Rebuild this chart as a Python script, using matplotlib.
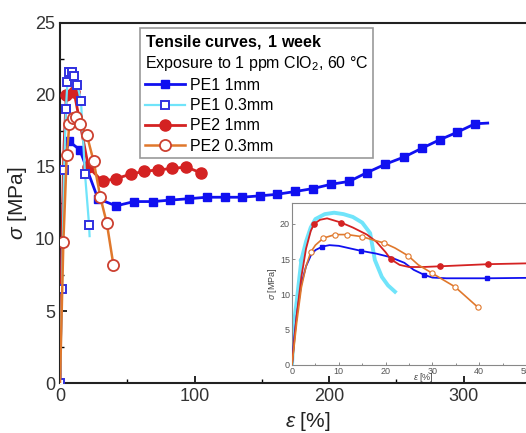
import matplotlib
matplotlib.use("Agg")
import matplotlib.pyplot as plt
from matplotlib.lines import Line2D
from matplotlib.ticker import MultipleLocator

plt.rcParams['font.family'] = ['Liberation Sans', 'DejaVu Sans']
plt.rcParams['mathtext.fontset'] = 'custom'
plt.rcParams['mathtext.rm'] = 'Liberation Sans'
plt.rcParams['mathtext.it'] = 'Liberation Sans:italic'
plt.rcParams['mathtext.bf'] = 'Liberation Sans:bold'

# ---------------- main chart data ----------------
pe1_1_x = [0, 1, 2.5, 4.5, 6.5, 14.7, 28.2, 41.7, 55, 69, 82, 96, 109, 123, 135, 149,
           161, 175, 188, 201.5, 215, 228, 242, 256, 269, 282.5, 295, 308.5, 318]
pe1_1_y = [0, 7, 13, 16, 16.8, 16.2, 12.8, 12.3, 12.6, 12.6, 12.7, 12.8, 12.9, 12.9, 12.9, 13.0,
           13.1, 13.3, 13.5, 13.8, 14.0, 14.6, 15.2, 15.7, 16.3, 16.9, 17.4, 18.0, 18.05]
pe1_1_marks = list(range(4, 28))

pe1_03_x = [0, 1.5, 3, 4.4, 5.5, 6.5, 8.6, 10.4, 12.9, 15.6, 18.6, 21.6, 22]
pe1_03_y = [0, 6.5, 14.8, 19.0, 20.9, 21.6, 21.6, 21.3, 20.7, 19.6, 14.5, 11.0, 10.2]
pe1_03_marks = list(range(0, 12))

pe2_1_x = [0, 1, 2, 3, 4.7, 10.5, 21.1, 31.6, 41.9, 52.5, 62.5, 73, 83.5, 94, 104.5]
pe2_1_y = [0, 7, 12.5, 16.5, 20.0, 20.2, 15.0, 14.0, 14.2, 14.5, 14.7, 14.8, 14.9, 15.0, 14.6]
pe2_1_marks = list(range(4, 15))

pe2_03_x = [0, 2.5, 5, 7, 9.5, 12, 15, 20, 25, 30, 34.8, 39.7]
pe2_03_y = [0, 9.8, 15.8, 18.0, 18.4, 18.5, 18.0, 17.2, 15.4, 12.9, 11.1, 8.2]
pe2_03_marks = list(range(1, 12))

# ---------------- inset data ----------------
in_pe1_1_x = [0, 0.5, 1, 2, 3, 4, 5, 6.5, 8, 10, 12, 14.7, 18, 21, 24, 26, 28.2, 30, 33, 41.7, 56]
in_pe1_1_y = [0, 4, 7, 11.5, 14, 15.5, 16.3, 16.8, 17.0, 16.9, 16.6, 16.2, 15.8, 15.3, 14.5, 13.5, 12.8, 12.4, 12.3, 12.3, 12.4]
in_pe1_1_marks = [7, 11, 16, 19]

in_pe1_03_x = [0, 0.5, 1, 2, 3, 4, 5, 7, 9, 11, 13, 15, 16.7, 17.7, 19.2, 20.5, 22]
in_pe1_03_y = [0, 6.4, 9, 14.9, 17.5, 19.5, 20.7, 21.4, 21.6, 21.4, 21.0, 20.2, 18.7, 14.9, 12.5, 11.3, 10.4]
in_pe1_03_marks = [1, 3]

in_pe2_1_x = [0, 1, 2, 3, 4, 4.7, 6, 7.5, 10.5, 13, 16, 18, 20, 21.1, 23, 25, 28, 31.6, 41.9, 56]
in_pe2_1_y = [0, 7, 12.5, 16.5, 19, 20.0, 20.6, 20.8, 20.2, 19.5, 18.5, 17.5, 16.0, 15.0, 14.2, 13.9, 13.9, 14.0, 14.3, 14.5]
in_pe2_1_marks = [5, 8, 13, 17, 18]

in_pe2_03_x = [0, 1, 2, 3, 4, 5, 6.7, 9.2, 11.8, 15, 17, 19.7, 22, 24.8, 27, 30, 32, 34.8, 37, 39.7]
in_pe2_03_y = [0, 6, 11, 14, 16, 17, 18.0, 18.5, 18.5, 18.2, 17.8, 17.3, 16.6, 15.5, 14.2, 13.0, 12.2, 11.1, 9.8, 8.2]
in_pe2_03_marks = [4, 6, 7, 8, 9, 11, 13, 15, 17, 19]

labels = ["PE1 1mm", "PE1 0.3mm", "PE2 1mm", "PE2 0.3mm"]

c_blue = '#1010f0'
c_cyan = '#70e4fa'
c_sq_open = '#3030e0'
c_red = '#d42222'
c_orange = '#e0782c'
c_circ_open = '#cc4030'

W, H = 526, 433
fig = plt.figure(figsize=(W / 100, H / 100), dpi=100)

# main axes (extends beyond the cropped right edge)
L, R, T, B = 60, 556, 23, 383
ax = fig.add_axes([L / W, 1 - B / H, (R - L) / W, (B - T) / H])
ax.plot(pe1_1_x, pe1_1_y, color=c_blue, lw=2, marker='s', ms=6.2,
        markevery=pe1_1_marks, mfc=c_blue, mec=c_blue, zorder=3)
ax.plot(pe1_03_x, pe1_03_y, color=c_cyan, lw=1.6, marker='s', ms=6.2,
        markevery=pe1_03_marks, mfc='white', mec=c_sq_open, mew=1.4, zorder=4)
ax.plot(pe2_1_x, pe2_1_y, color=c_red, lw=2, marker='o', ms=8,
        markevery=pe2_1_marks, mfc=c_red, mec=c_red, zorder=3)
ax.plot(pe2_03_x, pe2_03_y, color=c_orange, lw=1.8, marker='o', ms=8,
        markevery=pe2_03_marks, mfc='white', mec=c_circ_open, mew=1.3, zorder=4)

ax.set_xlim(0, (R - L) / 1.345)
ax.set_ylim(0, 25)
ax.xaxis.set_major_locator(MultipleLocator(100))
ax.xaxis.set_minor_locator(MultipleLocator(50))
ax.yaxis.set_major_locator(MultipleLocator(5))
ax.yaxis.set_minor_locator(MultipleLocator(2.5))
ax.tick_params(which='both', direction='in', labelsize=13, labelcolor='#333333')
ax.tick_params(which='major', length=5, width=1.2)
ax.tick_params(which='minor', length=3, width=1)
for s in ax.spines.values():
    s.set_linewidth(1.5)
    s.set_color('#222222')
ax.set_xlabel(r'$\varepsilon$ [%]', fontsize=15, color='#222222', labelpad=4)
ax.set_ylabel(r'$\sigma$ [MPa]', fontsize=15, color='#222222', labelpad=4)

handles = [
    Line2D([], [], color=c_blue, lw=2, marker='s', ms=6.2, mfc=c_blue, mec=c_blue),
    Line2D([], [], color=c_cyan, lw=1.6, marker='s', ms=6.2, mfc='white', mec=c_sq_open, mew=1.4),
    Line2D([], [], color=c_red, lw=2, marker='o', ms=8, mfc=c_red, mec=c_red),
    Line2D([], [], color=c_orange, lw=1.8, marker='o', ms=8, mfc='white', mec=c_circ_open, mew=1.3),
]
title = r'$\mathbf{Tensile\ curves,}$ $\mathbf{1\ week}$' + '\n' + r'Exposure to 1 ppm ClO$_2$, 60 °C'
leg = ax.legend(handles, labels, title=title, loc='upper left',
                bbox_to_anchor=((140 - L) / (R - L), (B - 28) / (B - T)),
                borderaxespad=0, fontsize=11.5, title_fontsize=11.5, alignment='left',
                fancybox=False, framealpha=1, edgecolor='#999999',
                handlelength=2.5, handletextpad=0.35, labelspacing=0.33,
                borderpad=0.3)
leg.get_frame().set_linewidth(1.2)

# inset
iL, iR, iT, iB = 292, 554, 203, 365
ix = fig.add_axes([iL / W, 1 - iB / H, (iR - iL) / W, (iB - iT) / H])
ix.plot(in_pe1_03_x, in_pe1_03_y, color=c_cyan, lw=2.8, marker='o', ms=3,
        markevery=in_pe1_03_marks, mfc=c_cyan, mec=c_cyan, zorder=2)
ix.plot(in_pe1_1_x, in_pe1_1_y, color=c_blue, lw=1.3, marker='s', ms=3.5,
        markevery=in_pe1_1_marks, mfc=c_blue, mec=c_blue, zorder=3)
ix.plot(in_pe2_1_x, in_pe2_1_y, color=c_red, lw=1.3, marker='o', ms=3.8,
        markevery=in_pe2_1_marks, mfc=c_red, mec=c_red, zorder=3)
ix.plot(in_pe2_03_x, in_pe2_03_y, color=c_orange, lw=1.2, marker='o', ms=3.8,
        markevery=in_pe2_03_marks, mfc='white', mec=c_orange, mew=0.8, zorder=3)
ix.set_xlim(0, (iR - iL) / 4.68)
ix.set_ylim(0, (iB - iT) / 7.05)
ix.xaxis.set_major_locator(MultipleLocator(10))
ix.xaxis.set_minor_locator(MultipleLocator(5))
ix.yaxis.set_major_locator(MultipleLocator(5))
ix.tick_params(which='both', direction='in', labelsize=6.5, labelcolor='#555555',
               length=2, width=0.6, pad=1.5, color='#777777')
ix.tick_params(which='minor', length=1.2)
for s in ix.spines.values():
    s.set_linewidth(0.8)
    s.set_color('#888888')
ix.set_xlabel(r'$\varepsilon$ [%]', fontsize=6.5, color='#444444', labelpad=-4)
ix.set_ylabel(r'$\sigma$ [MPa]', fontsize=6.5, color='#444444', labelpad=1)

fig.savefig('out.png', dpi=100)
